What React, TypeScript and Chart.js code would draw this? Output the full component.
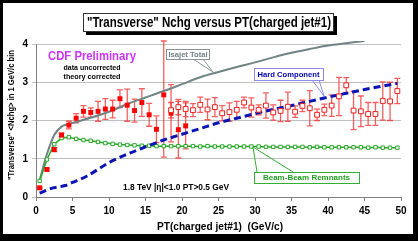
import React, { useEffect, useRef } from "react";
import { Chart, registerables } from "chart.js";
Chart.register(...registerables);

const FONT = "'Liberation Sans', Arial, sans-serif";

// Data (PT of charged jet#1 in GeV/c, <Nchg> in transverse region)
const filledX = [0.5, 1.5, 2.5, 3.5, 4.5, 5.5, 6.5, 7.5, 8.5, 9.5, 10.5, 11.5, 12.5, 13.5, 14.5, 15.5, 16.5, 17.5, 18.5, 19.5, 20.5];
const filledY = [0.24, 0.72, 1.24, 1.62, 1.88, 2.06, 2.24, 2.21, 2.24, 2.30, 2.30, 2.57, 2.40, 2.26, 2.47, 2.15, 1.77, 2.67, 2.19, 1.76, 1.86];
const filledErr = [0.02, 0.03, 0.05, 0.05, 0.1, 0.12, 0.15, 0.12, 0.26, 0.27, 0.23, 0.23, 0.42, 0.3, 0.36, 0.3, 0.35, 1.63, 0.75, 0.74, 0.6];

const hollowX = [18.5, 19.5, 20.5, 21.5, 22.5, 23.5, 24.5, 25.5, 26.5, 27.5, 28.5, 29.5, 30.5, 31.5, 32.5, 33.5, 34.5, 35.5, 36.5, 37.5, 38.5, 39.5, 40.5, 41.5, 42.5, 43.5, 44.5, 45.5, 46.5, 47.5, 48.5, 49.5];
const hollowY = [2.27, 2.35, 2.30, 2.27, 2.41, 2.29, 2.35, 2.19, 2.22, 2.28, 2.47, 2.34, 2.28, 2.39, 2.21, 2.25, 2.36, 2.23, 2.38, 2.32, 2.15, 2.28, 2.39, 2.63, 2.92, 2.26, 2.24, 2.17, 2.17, 2.51, 2.50, 2.77];
const hollowErr = [0.2, 0.2, 0.2, 0.17, 0.2, 0.27, 0.25, 0.2, 0.24, 0.22, 0.14, 0.25, 0.13, 0.33, 0.2, 0.28, 0.38, 0.15, 0.15, 0.46, 0.15, 0.15, 0.28, 0.5, 0.2, 0.5, 0.4, 0.3, 0.3, 0.5, 0.5, 0.33];

const beamX = [0.5, 1.5, 2.5, 3.5, 4.5, 5.5, 6.5, 7.5, 8.5, 9.5, 10.5, 11.5, 12.5, 13.5, 14.5, 15.5, 16.5, 17.5, 18.5, 19.5, 20.5, 21.5, 22.5, 23.5, 24.5, 25.5, 26.5, 27.5, 28.5, 29.5, 30.5, 31.5, 32.5, 33.5, 34.5, 35.5, 36.5, 37.5, 38.5, 39.5, 40.5, 41.5, 42.5, 43.5, 44.5, 45.5, 46.5, 47.5, 48.5, 49.5];
const beamY = [0.42, 0.98, 1.38, 1.54, 1.56, 1.52, 1.49, 1.47, 1.44, 1.41, 1.39, 1.37, 1.36, 1.35, 1.34, 1.34, 1.33, 1.33, 1.33, 1.33, 1.33, 1.33, 1.32, 1.33, 1.32, 1.32, 1.32, 1.32, 1.32, 1.32, 1.32, 1.31, 1.31, 1.31, 1.31, 1.31, 1.31, 1.30, 1.31, 1.30, 1.30, 1.30, 1.30, 1.30, 1.30, 1.29, 1.30, 1.29, 1.29, 1.29];

const isajetX = [0.5, 1.5, 2.5, 3.5, 4.5, 5.5, 7.5, 10, 12.5, 15, 17.5, 20, 22.5, 25, 27.5, 30, 32.5, 35, 37.5, 40, 42.5, 45];
const isajetY = [0.44, 1.12, 1.62, 1.84, 1.91, 1.96, 2.07, 2.23, 2.43, 2.6, 2.77, 2.95, 3.13, 3.27, 3.4, 3.52, 3.65, 3.77, 3.87, 3.96, 4.02, 4.08];

const hardX = [0.5, 2, 4, 5, 7, 10, 12.5, 15, 17.5, 20, 22.5, 25, 27.5, 30, 32.5, 35, 37.5, 40, 42.5, 45, 47.5, 49.5];
const hardY = [0.1, 0.22, 0.3, 0.38, 0.55, 0.9, 1.12, 1.31, 1.49, 1.64, 1.79, 1.94, 2.06, 2.18, 2.29, 2.39, 2.5, 2.61, 2.71, 2.81, 2.9, 2.97];

const xTicks = [0, 5, 10, 15, 20, 25, 30, 35, 40, 45, 50];
const yTicks = [0, 1, 2, 3, 4];

const TITLE = '"Transverse" Nchg versus PT(charged jet#1)';
const X_TITLE = "PT(charged jet#1)  (GeV/c)";
const Y_TITLE = '"Transverse" <Nchg> in 1 GeV/c bin';

const pts = (xs: number[], ys: number[]) => xs.map((x, i) => ({ x, y: ys[i] }));

function text(ctx: CanvasRenderingContext2D, s: string, x: number, y: number, font: string, color: string, align: CanvasTextAlign = "center", maxW?: number) {
  ctx.font = font;
  ctx.fillStyle = color;
  ctx.textAlign = align;
  ctx.textBaseline = "middle";
  if (maxW) ctx.fillText(s, x, y, maxW);
  else ctx.fillText(s, x, y);
}

export default function App() {
  const ref = useRef<HTMLCanvasElement>(null);
  useEffect(() => {
    const canvas = ref.current!;
    const errorBars = {
      id: "errorBars",
      beforeDatasetsDraw(chart: any) {
        const ctx = chart.ctx as CanvasRenderingContext2D;
        const ys = chart.scales.y;
        const top = chart.chartArea.top - 3;
        const sets: [number, number[], number[]][] = [[3, filledY, filledErr], [4, hollowY, hollowErr]];
        ctx.save();
        ctx.strokeStyle = "rgba(245,40,40,0.75)";
        ctx.lineWidth = 1.3;
        for (const [di, yv, ev] of sets) {
          const meta = chart.getDatasetMeta(di);
          meta.data.forEach((el: any, i: number) => {
            const x = el.x;
            const y1 = Math.max(top, ys.getPixelForValue(yv[i] + ev[i]));
            const y2 = ys.getPixelForValue(yv[i] - ev[i]);
            ctx.beginPath();
            ctx.moveTo(x, y1); ctx.lineTo(x, y2);
            ctx.moveTo(x - 3, y1); ctx.lineTo(x + 3, y1);
            ctx.moveTo(x - 3, y2); ctx.lineTo(x + 3, y2);
            ctx.stroke();
          });
        }
        ctx.restore();
      },
    };
    const decor = {
      id: "decor",
      beforeDraw(chart: any) {
        const ctx = chart.ctx as CanvasRenderingContext2D;
        ctx.save();
        ctx.fillStyle = "#000";
        ctx.fillRect(0, 0, 418, 241);
        ctx.fillStyle = "#fff";
        ctx.fillRect(3, 3, 410, 231);
        ctx.restore();
      },
      afterDraw(chart: any) {
        const ctx = chart.ctx as CanvasRenderingContext2D;
        ctx.save();
        // title box
        ctx.fillStyle = "#000";
        ctx.fillRect(86, 16, 251, 19);
        ctx.fillStyle = "#fff";
        ctx.fillRect(83, 13, 251, 19);
        ctx.strokeStyle = "#333";
        ctx.lineWidth = 1;
        ctx.strokeRect(83.5, 13.5, 250, 18);
        text(ctx, TITLE, 209, 23, `bold 14px ${FONT}`, "#000", "center", 244);

        // axis titles
        text(ctx, X_TITLE, 220, 227, `bold 11px ${FONT}`, "#000", "center", 126);
        ctx.save();
        ctx.translate(11, 115);
        ctx.rotate(-Math.PI / 2);
        text(ctx, Y_TITLE, 0, 0, `bold 9.5px ${FONT}`, "#000", "center", 130);
        ctx.restore();

        // labels
        text(ctx, "CDF Preliminary", 92, 56, `bold 13px ${FONT}`, "#CC33FF", "center", 88);
        text(ctx, "data uncorrected", 92, 68, `bold 8px ${FONT}`, "#000", "center", 57);
        text(ctx, "theory corrected", 92, 77, `bold 8px ${FONT}`, "#000", "center", 57);
        text(ctx, "1.8 TeV |\u03b7|<1.0 PT>0.5 GeV", 123, 188, `bold 8.5px ${FONT}`, "#000", "left", 106);

        // callouts
        ctx.lineWidth = 1;
        // Isajet Total
        ctx.strokeStyle = "#8a9494";
        ctx.beginPath();
        ctx.moveTo(193, 59); ctx.lineTo(213, 72); ctx.lineTo(203, 59);
        ctx.stroke();
        ctx.fillStyle = "#fff";
        ctx.fillRect(166, 49, 43, 10);
        ctx.strokeRect(166.5, 49.5, 43, 10);
        text(ctx, "Isajet Total", 188, 54.5, `bold 8px ${FONT}`, "#6f7f80", "center", 39);
        // Hard Component
        ctx.strokeStyle = "#8c8cf0";
        ctx.beginPath();
        ctx.moveTo(312, 80); ctx.lineTo(324, 96); ctx.lineTo(319, 80);
        ctx.stroke();
        ctx.fillStyle = "#fff";
        ctx.fillRect(254, 68, 69, 12);
        ctx.strokeRect(254.5, 68.5, 69, 12);
        text(ctx, "Hard Component", 288.5, 74.5, `bold 8px ${FONT}`, "#0000b4", "center", 62);
        // Beam-Beam Remnants
        ctx.strokeStyle = "#33b033";
        ctx.beginPath();
        ctx.moveTo(257, 172); ctx.lineTo(253, 147); ctx.lineTo(293, 172);
        ctx.stroke();
        ctx.fillStyle = "#fff";
        ctx.fillRect(254, 172, 105, 11);
        ctx.strokeRect(254.5, 172.5, 105, 11);
        text(ctx, "Beam-Beam Remnants", 306.5, 178, `bold 8px ${FONT}`, "#22a022", "center", 96);
        ctx.restore();
      },
    };

    const chart = new Chart(canvas, {
      type: "scatter",
      data: {
        datasets: [
          {
            label: "Isajet Total",
            data: pts(isajetX, isajetY),
            showLine: true,
            borderColor: "#708484",
            borderWidth: 2,
            pointRadius: 0,
            cubicInterpolationMode: "monotone",
            clip: { left: 0, top: 3, right: 0, bottom: 0 } as any,
            order: 4,
          },
          {
            label: "Beam-Beam Remnants",
            data: pts(beamX, beamY),
            showLine: true,
            borderColor: "#2aa82a",
            borderWidth: 1.5,
            pointStyle: "rect",
            pointRadius: 2.4,
            pointBorderWidth: 1,
            pointBackgroundColor: "#fff",
            pointBorderColor: "#2aa82a",
            order: 3,
          },
          {
            label: "Hard Component",
            data: pts(hardX, hardY),
            showLine: true,
            borderColor: "#0a14b4",
            borderWidth: 3,
            borderDash: [7, 4],
            pointRadius: 0,
            cubicInterpolationMode: "monotone",
            order: 2,
          },
          {
            label: "data",
            data: pts(filledX, filledY),
            pointStyle: "rect",
            pointRadius: 3.5,
            pointBorderWidth: 0,
            pointBackgroundColor: "#ff0000",
            pointBorderColor: "#ff0000",
            order: 1,
          },
          {
            label: "data2",
            data: pts(hollowX, hollowY),
            pointStyle: "rect",
            pointRadius: 3.4,
            pointBorderWidth: 1,
            pointBackgroundColor: "#fff",
            pointBorderColor: "#ee2020",
            order: 0,
          },
        ],
      },
      options: {
        responsive: false,
        animation: false,
        events: [],
        layout: { padding: { left: 0, right: 17, top: 44, bottom: 0 } },
        plugins: { legend: { display: false }, tooltip: { enabled: false } },
        scales: {
          x: {
            type: "linear",
            min: 0,
            max: 50,
            afterFit: (s: any) => { s.height = 44; },
            afterBuildTicks: (s: any) => { s.ticks = xTicks.map((v) => ({ value: v })); },
            ticks: { color: "#000", padding: 4, font: { family: FONT, size: 10, weight: "bold" } },
            grid: { drawOnChartArea: false, drawTicks: true, tickLength: 4, color: "#808080" },
            border: { color: "#808080" },
          },
          y: {
            min: 0,
            max: 4,
            afterFit: (s: any) => { s.width = 36; },
            afterBuildTicks: (s: any) => { s.ticks = yTicks.map((v) => ({ value: v })); },
            ticks: { color: "#000", padding: 4, font: { family: FONT, size: 10, weight: "bold" } },
            grid: { color: "#c0c0c0", tickLength: 4 },
            border: { color: "#808080" },
          },
        },
      },
      plugins: [errorBars, decor],
    } as any);
    return () => chart.destroy();
  }, []);
  return (
    <div style={{ position: "fixed", left: 0, top: 0, width: 418, height: 241, background: "#fff" }}>
      <canvas ref={ref} width={418} height={241} style={{ display: "block", width: 418, height: 241 }} />
    </div>
  );
}
